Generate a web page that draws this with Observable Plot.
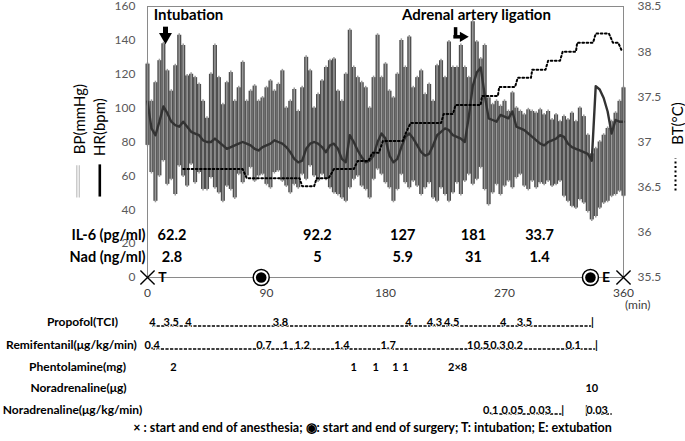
<!DOCTYPE html>
<html><head><meta charset="utf-8">
<script src="https://cdn.jsdelivr.net/npm/d3@7"></script>
<script src="https://cdn.jsdelivr.net/npm/@observablehq/plot@0.6"></script>
<style>html,body{margin:0;padding:0;background:#fff;} svg{display:block}</style>
</head><body><div id="chart"></div>
<script>
// ---- data ----
const times = [0,3,6,9,12,15,18,21,24,27,30,33,36,39,42,45,48,51,54,57,60,63,66,69,72,75,78,81,84,87,90,93,96,99,102,105,108,111,114,117,120,123,126,129,132,135,138,141,144,147,150,153,156,159,162,165,168,171,174,177,180,183,186,189,192,195,198,201,204,207,210,213,216,219,222,225,228,231,234,237,240,243,246,249,252,255,258,261,264,267,270,273,276,279,282,285,288,291,294,297,300,303,306,309,312,315,318,321,324,327,330,333,336,339,342,345,348,351,354,357,360];
const systolic = [126,104,115,128,138,122,110,125,143,137,
 119,120,118,114,104,94,120,137,118,102,
 115,121,104,112,127,104,110,113,104,106,
 112,116,110,114,122,100,104,111,98,112,
 130,122,100,108,116,124,128,129,110,104,
 120,146,124,118,115,112,100,118,143,118,
 126,110,106,120,140,124,142,112,118,122,
 108,114,104,125,128,118,139,124,124,137,
 124,118,151,139,129,137,106,102,104,101,
 104,98,109,100,98,96,99,98,97,99,
 96,98,93,96,92,95,93,97,92,100,
 95,84,73,76,80,84,88,92,97,104,
 112];
const diastolic = [78,62,45,60,69,55,58,49,66,60,
 54,67,56,62,52,52,59,53,50,45,
 54,52,47,61,56,60,65,57,60,61,
 55,53,62,63,57,54,50,55,53,61,
 58,66,60,57,61,58,53,50,49,47,
 45,53,58,60,54,52,47,58,64,61,
 56,53,45,52,61,56,53,57,54,49,
 53,56,47,45,53,49,45,50,56,49,
 57,61,55,58,65,52,43,50,55,49,
 54,57,53,59,61,54,52,57,53,56,
 55,57,54,55,57,48,45,42,41,46,
 44,39,34,36,41,44,45,48,49,51,
 48];
const heartRate = [104,88,84,92,101,97,92,90,89,92,
 89,86,85,84,81,80,80,82,80,78,
 76,77,78,79,80,79,78,76,75,77,
 78,79,81,80,79,77,74,70,68,69,
 76,79,80,79,77,74,78,79,76,70,
 68,84,80,75,71,68,69,72,80,85,
 82,72,68,70,77,83,85,82,78,74,
 72,73,78,84,86,88,87,84,83,82,
 80,95,113,121,124,108,94,93,92,96,
 95,94,98,89,88,87,85,83,81,79,
 78,80,81,82,84,83,79,77,76,75,
 74,73,69,113,111,106,98,85,93,92,
 92];
const btTimes = [27,72,75,115,117,126,128,137,141,156,159,167,170,175,178,193,196,199,222,224,231,233,252,253,265,266,278,280,290,291,301,303,312,314,324,325,337,339,343,349,352,356,359];
const btValues = [36.7,36.7,36.6,36.6,36.51,36.51,36.6,36.6,36.7,36.7,36.79,36.79,36.88,36.88,37.01,37.01,37.12,37.21,37.21,37.31,37.31,37.41,37.41,37.51,37.51,37.61,37.61,37.71,37.71,37.8,37.8,37.9,37.9,38.0,38.0,38.1,38.1,38.2,38.2,38.2,38.1,38.1,38.0];

const bpTicks = [0,20,40,60,80,100,120,140,160];
const btTicks = [35.5,36,36.5,37,37.5,38,38.5];
const timeTicks = [0,90,180,270,360];

const sampleTimes = [18.5,128.5,193,246.5,296.5];
const il6Values = ["62.2","92.2","127","181","33.7"];
const nadValues = ["2.8","5","5.9","31","1.4"];

const anesthesiaTimes = [0,360];
const surgeryTimes = [86,335];
const eventLetters = ["T","E"];
const eventLetterTimes = [11.3,346.8];
const intubationTime = 13.6;
const ligationTime = 233;

const propofolTimes = [3.8,18,31,100.6,197.4,217,230,269,285,336.6];
const propofolLabels = ["4","3.5","4","3.8","4","4.3","4.5","4","3.5","|"];
const remiTimes = [3.5,88,104.4,117,147,182,244,252.6,265,278,322,339.6];
const remiLabels = ["0.4","0.7","1","1.2","1.4","1.7","1","0.5","0.3","0.2","0.1","|"];
const phentolTimes = [19.7,156,172.5,187.6,195,234.5];
const phentolLabels = ["2","1","1","1","1","2×8"];
const naBolusTimes = [336];
const naBolusLabels = ["10"];
const naInfTimes = [259.5,276,297,314,332,340];
const naInfLabels = ["0.1","0.05","0.03","|","|","0.03"];
const naInfDashRuns = [[259.5,314],[340,351.5]];
const rowNames = ["Propofol(TCI)","Remifentanil(μg/kg/min)","Phentolamine(mg)","Noradrenaline(μg)","Noradrenaline(μg/kg/min)"];

// ---- tables ----
const bp = times.map((t,i)=>({t, sys: systolic[i], dia: diastolic[i]}));
const hr = times.map((t,i)=>({t, hr: heartRate[i]}));
const toLeft = v => (v - 35.5) * 160 / 3;
const bt = btTimes.map((t,i)=>({t, y: toLeft(btValues[i])}));
const pairs = (ts, ls) => ts.map((t,i)=>({t, label: ls[i]}));

const FONT = "Lato, 'Open Sans', sans-serif";
const bold = {fontWeight: "bold", fill: "#000"};
const rowDy = [48, 71, 93, 114, 136];
const halo = {stroke: "#fff", strokeWidth: 1.5, paintOrder: "stroke"};

function rowMarks(data, k) {
  return Plot.text(data, {x: "t", text: "label", frameAnchor: "bottom", dy: rowDy[k], fontSize: 11, ...bold, ...halo});
}
function dashRun(from, to, k) {
  return Plot.ruleY([0], {x1: from, x2: to, dy: rowDy[k] + 0.5, stroke: "#000", strokeWidth: 1.7, strokeDasharray: "3.2,1.4"});
}
function rowName(k, dx) {
  return Plot.text([rowNames[k]], {frameAnchor: "bottom-left", textAnchor: "middle", dx, dy: rowDy[k], fontSize: 12, ...bold});
}

const chart = Plot.plot({
  width: 685, height: 441,
  marginLeft: 147, marginRight: 62, marginTop: 6, marginBottom: 164,
  x: {domain: [0, 360]},
  y: {domain: [0, 160]},
  style: {fontFamily: FONT, background: "#fff", color: "#000", overflow: "visible"},
  marks: [
    Plot.axisY({anchor: "left", ticks: bpTicks, tickSize: 0, tickPadding: 12, label: null, fontSize: 12, color: "#595959"}),
    Plot.axisY({anchor: "right", ticks: btTicks.map(toLeft), tickFormat: d => String(+(35.5 + d * 3 / 160).toFixed(1)), tickSize: 0, tickPadding: 14, label: null, fontSize: 12, color: "#595959"}),
    Plot.axisX({ticks: timeTicks, tickSize: 0, tickPadding: 11, label: null, fontSize: 12, color: "#404040"}),
    // BP range bars
    Plot.ruleX(bp, {x: "t", y1: "dia", y2: "sys", stroke: "#4e4e4e", strokeWidth: 4.1}),
    Plot.ruleX(bp, {x: "t", y1: "dia", y2: "sys", stroke: "#9a9a9a", strokeWidth: 1.5, insetTop: 1.5, insetBottom: 1.5}),
    // HR
    Plot.line(hr, {x: "t", y: "hr", stroke: "#333", strokeWidth: 2.4}),
    // BT
    Plot.line(bt, {x: "t", y: "y", stroke: "#000", strokeWidth: 2, strokeDasharray: "1.7,2.5"}),
    Plot.frame({stroke: "#8a8a8a"}),
    // event annotations
    Plot.text(["Intubation"], {x: 31, y: 154.7, fontSize: 15, ...bold}),
    Plot.text(["Adrenal artery ligation"], {x: 248.8, y: 154.7, fontSize: 15, ...bold}),
    Plot.ruleX([intubationTime], {y1: 143, y2: 147.8, stroke: "#000", strokeWidth: 5}),
    Plot.dot([intubationTime], {x: d => d, y: 142.1, symbol: "triangle", rotate: 180, r: 4.8, fill: "#000"}),
    Plot.ruleX([ligationTime], {y1: 141.2, y2: 147.5, stroke: "#000", strokeWidth: 3.5}),
    Plot.ruleY([142.1], {x1: ligationTime - 1.3, x2: ligationTime + 5, stroke: "#000", strokeWidth: 3.5}),
    Plot.dot([ligationTime], {x: d => d + 5.5, y: 142.1, symbol: "triangle", rotate: 90, r: 3.8, fill: "#000"}),
    // IL-6 / Nad rows
    Plot.text(["IL-6 (pg/ml)"], {frameAnchor: "left", y: 24.7, dx: -2, textAnchor: "end", fontSize: 14.5, ...bold}),
    Plot.text(["Nad (ng/ml)"], {frameAnchor: "left", y: 11.8, dx: -2, textAnchor: "end", fontSize: 14.5, ...bold}),
    Plot.text(pairs(sampleTimes, il6Values), {x: "t", y: 24.7, text: "label", fontSize: 14.5, ...bold}),
    Plot.text(pairs(sampleTimes, nadValues), {x: "t", y: 11.8, text: "label", fontSize: 14.5, ...bold}),
    // axis titles and legend glyphs
    Plot.text(["BP(mmHg)"], {frameAnchor: "left", textAnchor: "middle", y: 93.5, dx: -67, rotate: -90, fontSize: 15, fill: "#000"}),
    Plot.text(["HR(bpm)"], {frameAnchor: "left", textAnchor: "middle", y: 88.8, dx: -47, rotate: -90, fontSize: 15, fill: "#000"}),
    Plot.ruleX([0], {y1: 47, y2: 66, dx: -70.7, stroke: "#c4c4c4", strokeWidth: 1.3}),
    Plot.ruleX([0], {y1: 47, y2: 66, dx: -68.2, stroke: "#c4c4c4", strokeWidth: 1.3}),
    Plot.ruleX([0], {y1: 47.5, y2: 66.5, dx: -47.7, stroke: "#000", strokeWidth: 2.6}),
    Plot.text(["BT(°C)"], {frameAnchor: "right", textAnchor: "middle", y: 90.9, dx: 55, rotate: -90, fontSize: 15, fill: "#000"}),
    Plot.ruleX([360], {y1: 51, y2: 70, dx: 52, stroke: "#000", strokeWidth: 2, strokeDasharray: "2,2.5"}),
    // time-axis markers
    Plot.dot(anesthesiaTimes, {x: d => d, y: 0, symbol: "times", r: 6.5, stroke: "#000", strokeWidth: 1.4}),
    Plot.dot(surgeryTimes, {x: d => d, y: 0, r: 8, stroke: "#000", strokeWidth: 1.5, fill: "#fff"}),
    Plot.dot(surgeryTimes, {x: d => d, y: 0, r: 5.3, fill: "#000"}),
    Plot.text(pairs(eventLetterTimes, eventLetters), {x: "t", y: 0, text: "label", fontSize: 14, ...bold}),
    Plot.text(["(min)"], {frameAnchor: "bottom-right", dx: 27, dy: 31, fontSize: 12, fill: "#404040"}),
    // drug rows
    dashRun(propofolTimes[0], propofolTimes[propofolTimes.length - 1], 0),
    dashRun(remiTimes[0], remiTimes[remiTimes.length - 1], 1),
    ...naInfDashRuns.map(([a, b]) => dashRun(a, b, 4)),
    rowMarks(pairs(propofolTimes, propofolLabels), 0),
    rowMarks(pairs(remiTimes, remiLabels), 1),
    rowMarks(pairs(phentolTimes, phentolLabels), 2),
    rowMarks(pairs(naBolusTimes, naBolusLabels), 3),
    rowMarks(pairs(naInfTimes, naInfLabels), 4),
    rowName(0, -65), rowName(1, -76), rowName(2, -70), rowName(3, -69), rowName(4, -75),
    Plot.text(["× : start and end of anesthesia; ◉: start and end of surgery; T: intubation; E: extubation"], {frameAnchor: "bottom", dx: -13, dy: 154, fontSize: 12.5, ...bold})
  ]
});
document.getElementById("chart").appendChild(chart);
</script>
</body></html>
